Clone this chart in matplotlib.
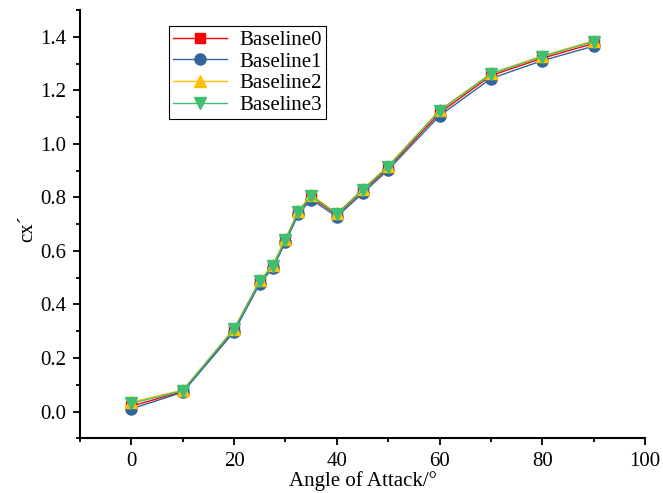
import matplotlib
matplotlib.use("Agg")
import matplotlib.pyplot as plt
from matplotlib.ticker import MultipleLocator, FormatStrFormatter

angle = [0, 10, 20, 25, 27.5, 30, 32.5, 35, 40, 45, 50, 60, 70, 80, 90]
baseline0 = [0.020, 0.075, 0.305, 0.485, 0.540, 0.640, 0.745, 0.800, 0.735, 0.823, 0.910, 1.115, 1.255, 1.320, 1.375]
baseline1 = [0.010, 0.072, 0.298, 0.478, 0.535, 0.632, 0.737, 0.792, 0.728, 0.815, 0.903, 1.105, 1.244, 1.311, 1.365]
baseline2 = [0.035, 0.080, 0.310, 0.490, 0.546, 0.646, 0.750, 0.810, 0.740, 0.830, 0.918, 1.126, 1.263, 1.329, 1.385]
baseline3 = [0.030, 0.078, 0.308, 0.487, 0.543, 0.642, 0.747, 0.805, 0.738, 0.827, 0.915, 1.123, 1.261, 1.326, 1.382]
series_names = ["Baseline0", "Baseline1", "Baseline2", "Baseline3"]

plt.rcParams['font.family'] = ['Liberation Serif', 'DejaVu Serif']
plt.rcParams['font.size'] = 15

fig = plt.figure(figsize=(6.63, 4.93), dpi=100)
ax = fig.add_axes([0.1207, 0.111, 0.8522, 0.8687])

styles = [
    dict(color="#ff0000", marker="s", ms=7),
    dict(color="#33649e", marker="o", ms=8),
    dict(color="#ffc000", marker="^", ms=8),
    dict(color="#3fbf72", marker="v", ms=9),
]
for vals, name, st in zip([baseline0, baseline1, baseline2, baseline3], series_names, styles):
    ax.plot(angle, vals, color=st["color"], marker=st["marker"], ms=st["ms"],
            lw=1.0, mec=st["color"], label=name)

ax.set_xlim(-10, 100)
ax.set_ylim(-0.1, 1.5)
ax.xaxis.set_major_locator(MultipleLocator(20))
ax.xaxis.set_minor_locator(MultipleLocator(10))
ax.yaxis.set_major_locator(MultipleLocator(0.2))
ax.yaxis.set_minor_locator(MultipleLocator(0.1))
ax.yaxis.set_major_formatter(FormatStrFormatter('%.1f'))

for s in ["top", "right"]:
    ax.spines[s].set_visible(False)
for s in ["left", "bottom"]:
    ax.spines[s].set_linewidth(1.5)
ax.tick_params(which="major", direction="out", length=5, width=1.3, labelsize=15, pad=5)
ax.tick_params(which="minor", direction="out", length=3, width=1.3)

ax.set_xlabel("Angle of Attack/°", fontsize=15, labelpad=0)
ax.set_ylabel("cx´", fontsize=15)
ax.yaxis.set_label_coords(-0.075, 0.49)

leg = ax.legend(loc="upper left", bbox_to_anchor=(0.157, 0.962), frameon=True,
                fancybox=False, edgecolor="black", framealpha=1,
                handlelength=2.6, handletextpad=0.6, borderpad=0.2,
                labelspacing=0.1, borderaxespad=0)
leg.get_frame().set_linewidth(0.8)

fig.savefig("out.png", dpi=100)
